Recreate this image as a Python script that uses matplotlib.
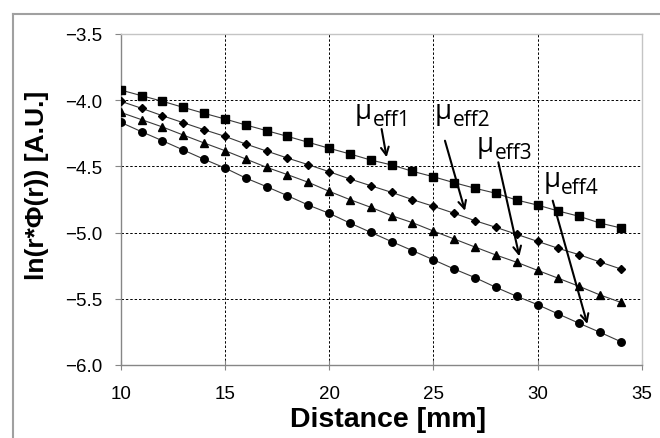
import matplotlib
matplotlib.use("Agg")
import matplotlib.pyplot as plt
from matplotlib.lines import Line2D
import numpy as np

plt.rcParams['font.family'] = ['Liberation Sans', 'DejaVu Sans']

#---------------------------------------------------------------------------#
# data
#---------------------------------------------------------------------------#

distance = list(range(10, 35))

mu1 = [-3.923, -3.966, -4.008, -4.054, -4.099, -4.142, -4.187, -4.230, -4.273,
       -4.318, -4.363, -4.406, -4.452, -4.489, -4.537, -4.578, -4.623, -4.665,
       -4.703, -4.754, -4.792, -4.837, -4.877, -4.928, -4.965]

mu2 = [-4.008, -4.061, -4.117, -4.170, -4.223, -4.273, -4.331, -4.384, -4.437,
       -4.487, -4.540, -4.595, -4.646, -4.696, -4.751, -4.801, -4.854, -4.910,
       -4.960, -5.013, -5.066, -5.119, -5.167, -5.222, -5.275]

mu3 = [-4.092, -4.147, -4.202, -4.263, -4.323, -4.381, -4.444, -4.507, -4.562,
       -4.620, -4.688, -4.751, -4.809, -4.872, -4.925, -4.988, -5.048, -5.109,
       -5.169, -5.224, -5.285, -5.345, -5.406, -5.471, -5.527]

mu4 = [-4.167, -4.238, -4.306, -4.376, -4.446, -4.512, -4.588, -4.653, -4.721,
       -4.792, -4.854, -4.928, -4.998, -5.068, -5.136, -5.205, -5.275, -5.340,
       -5.413, -5.481, -5.544, -5.615, -5.685, -5.753, -5.824]

subscripts = ['eff1', 'eff2', 'eff3', 'eff4']

# label anchors (left, baseline of the mu) and arrow tail -> head, in data units
label_pos = [(21.24, -4.132), (25.08, -4.132), (27.08, -4.38), (30.28, -4.645)]
arrow_from = [(22.52, -4.218), (25.56, -4.306), (28.12, -4.469), (30.73, -4.759)]
arrow_to = [(22.76, -4.431), (26.52, -4.835), (29.13, -5.179), (32.39, -5.690)]

#---------------------------------------------------------------------------#

fig = plt.figure(figsize=(6.6, 4.39), dpi=100)
ax = fig.add_axes([120.7/660, 1-366/439, (641.7-120.7)/660, (366-35)/439])

for ys, mk, ms in zip([mu1, mu2, mu3, mu4], ['s', 'D', '^', 'o'], [5.4, 3.9, 5.4, 5.4]):
    ax.plot(distance, ys, color='#3a3a3a', lw=0.8, marker=mk, ms=ms,
            mfc='black', mec='black', zorder=3)

ax.set_xlim(10, 35)
ax.set_ylim(-6.0, -3.5)
ax.set_xticks(np.arange(10, 36, 5))
ax.set_yticks(np.arange(-6.0, -3.49, 0.5))
ax.yaxis.set_major_formatter(matplotlib.ticker.FuncFormatter(
    lambda v, p: f"{v:.1f}".replace('-', '\u2212')))

ax.grid(True, color='black', ls=(0, (2.5, 2)), lw=0.7)
ax.set_axisbelow(True)

for s in ['top', 'right']:
    ax.spines[s].set_color('#c4c4c4')
    ax.spines[s].set_linewidth(1.0)
for s in ['left', 'bottom']:
    ax.spines[s].set_color('#868686')
    ax.spines[s].set_linewidth(1.0)

ax.tick_params(axis='y', direction='out', length=4.5, width=0.8, color='#868686',
               labelsize=13.5, pad=8.5)
ax.tick_params(axis='x', direction='inout', length=7, width=0.8, color='#868686',
               labelsize=13.5, pad=11)

fig.text(37/660, 1-185/439, 'ln(r*Φ(r)) [A.U.]', rotation=90, ha='center',
         va='center', fontsize=19, fontweight='bold')
fig.text(388/660, 1-420/439, 'Distance [mm]', ha='center', va='center',
         fontsize=20.5, fontweight='bold')

for sub, (tx, ty), a0, a1 in zip(subscripts, label_pos, arrow_from, arrow_to):
    mu = ax.text(tx, ty, 'μ', fontsize=20, family='Open Sans',
                 ha='left', va='baseline', zorder=5)
    ax.annotate(sub, xy=(1, 0), xycoords=mu, xytext=(0.5, -0.5),
                textcoords='offset points', fontsize=15, family='Open Sans',
                ha='left', va='baseline', zorder=5)
    ax.annotate('', xy=a1, xytext=a0,
                arrowprops=dict(arrowstyle='->', lw=1.5, color='black',
                                shrinkA=0, shrinkB=0, mutation_scale=14),
                zorder=5)

# outer chart frame (only its top-left part is visible)
fig.add_artist(Line2D([13/660, 13/660], [0, 1-15/439], color='#a0a0a0', lw=1.5))
fig.add_artist(Line2D([13/660, 1], [1-15/439, 1-15/439], color='#a0a0a0', lw=1.5))

fig.savefig('out.png', dpi=100)
